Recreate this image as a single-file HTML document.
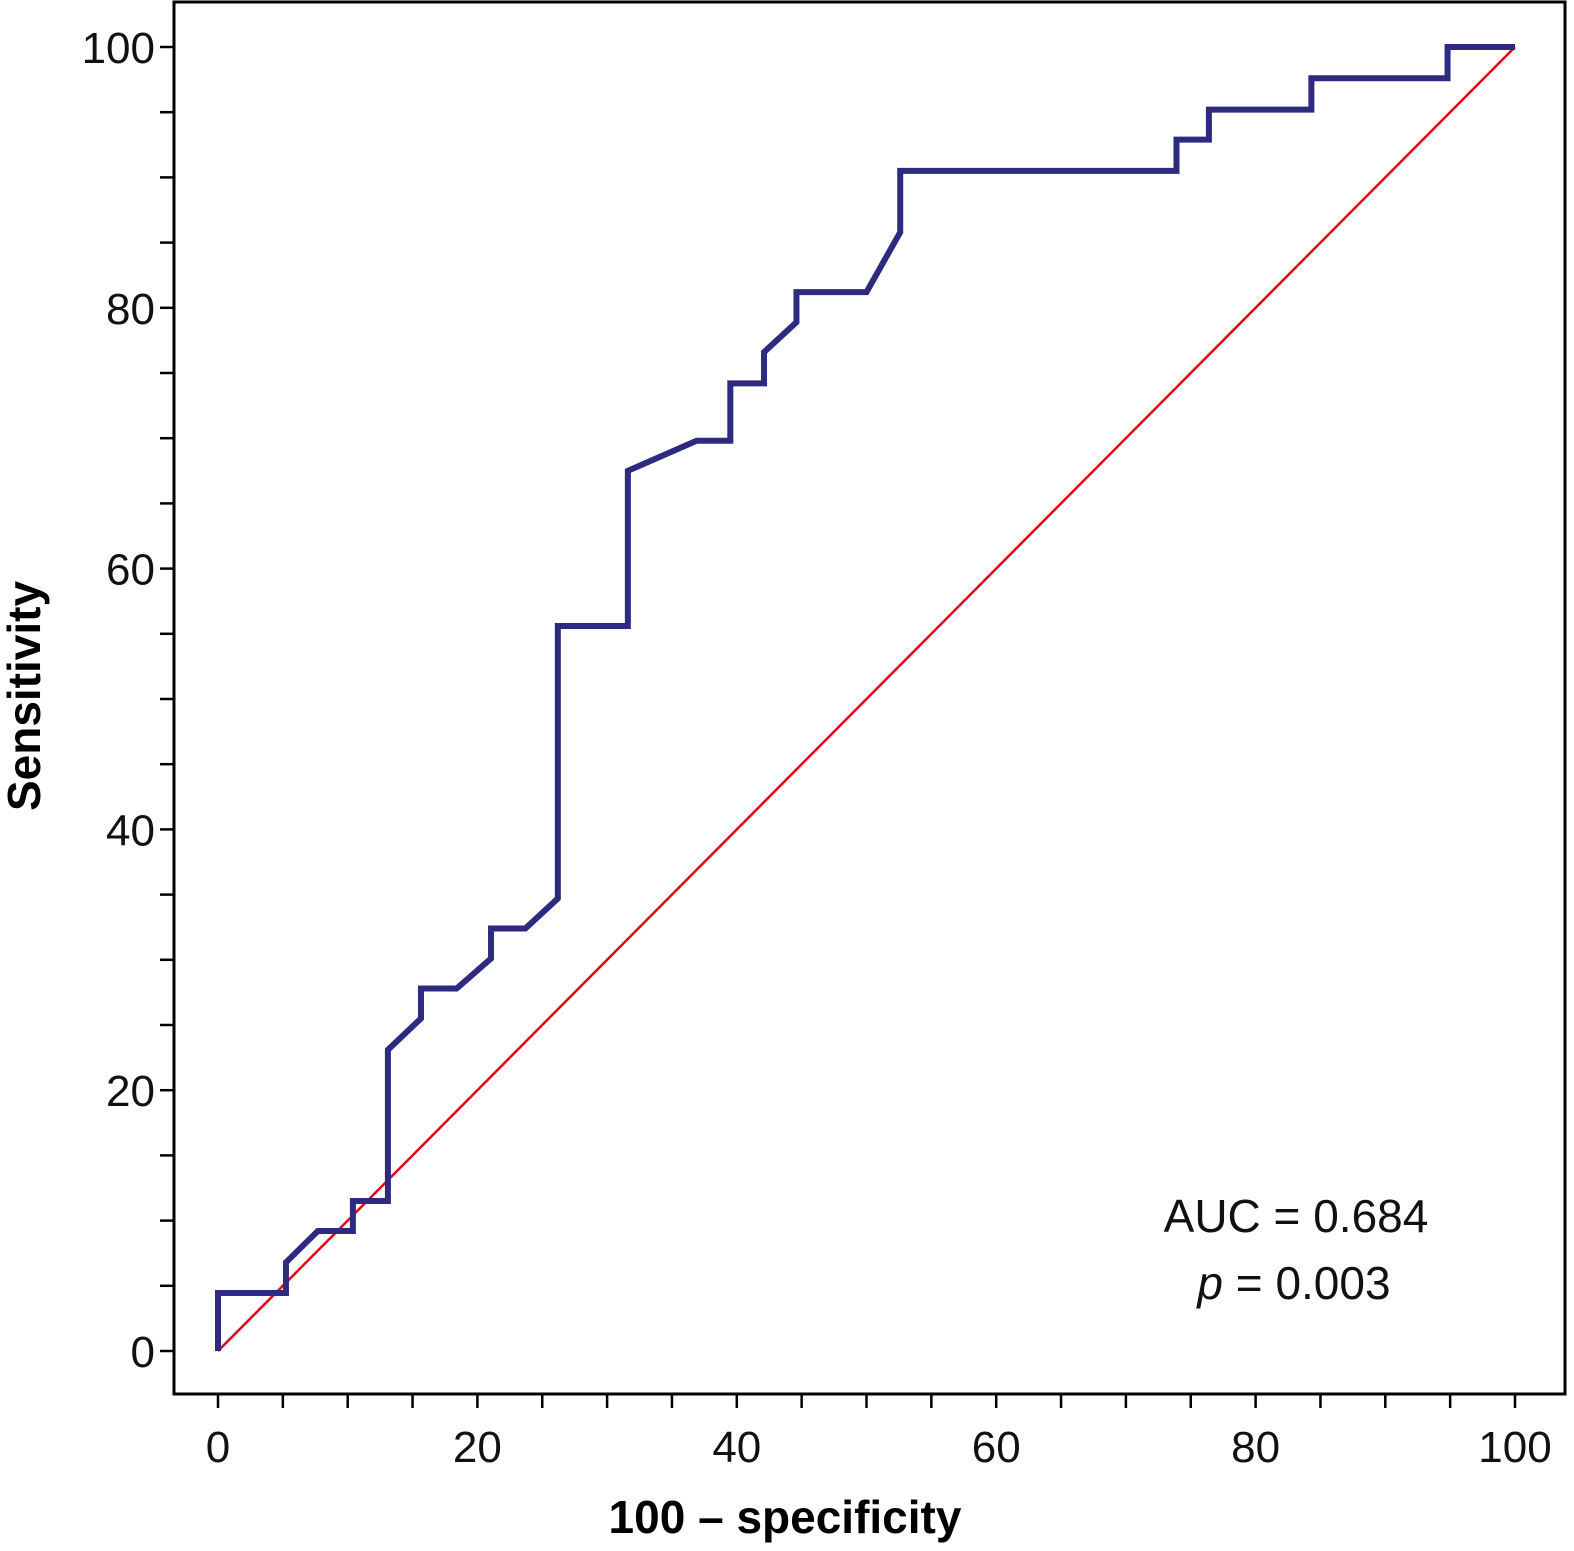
<!DOCTYPE html>
<html><head><meta charset="utf-8"><style>
html,body{margin:0;padding:0;background:#fff;}
svg{display:block;}
text{font-family:"Liberation Sans",sans-serif;}
</style></head><body>
<svg id="chart" width="1574" height="1551" viewBox="0 0 1574 1551" xmlns="http://www.w3.org/2000/svg">
<rect x="174" y="2" width="1391" height="1392" fill="none" stroke="#000" stroke-width="3"/>
<g id="ticks"></g>
<line id="diag" stroke="#e30613" stroke-width="2.5"/>
<path id="roc" fill="none" stroke="#2e2a7f" stroke-width="6" stroke-linejoin="miter"/>
<text x="1296" y="1232" font-size="46" text-anchor="middle" fill="#111" font-weight="300">AUC = 0.684</text>
<text x="1294" y="1299" font-size="46" text-anchor="middle" fill="#111"><tspan font-style="italic">p</tspan> = 0.003</text>
<text x="785" y="1533" font-size="46" font-weight="bold" text-anchor="middle" fill="#000">100 – specificity</text>
<text transform="translate(40,696) rotate(-90)" font-size="46" font-weight="bold" text-anchor="middle" fill="#000">Sensitivity</text>
</svg>
<script>
const fpr = [0,0,5.24,5.24,7.7,10.4,10.4,13.1,13.1,15.65,15.65,18.4,21.05,21.05,23.7,26.2,26.2,31.6,31.6,36.9,39.5,39.5,42.1,42.1,44.6,44.6,50.0,52.6,52.6,73.9,73.9,76.4,76.4,84.3,84.3,94.8,94.8,100];
const tpr = [0,4.45,4.45,6.8,9.2,9.2,11.5,11.5,23.1,25.5,27.8,27.8,30.1,32.4,32.4,34.7,55.6,55.6,67.5,69.8,69.8,74.2,74.2,76.6,78.9,81.2,81.2,85.8,90.5,90.5,92.9,92.9,95.2,95.2,97.6,97.6,100,100];
const xTickLabels = [0,20,40,60,80,100];
const yTickLabels = [0,20,40,60,80,100];
const X0=218, X1=1515, Y0=1351, Y1=47;
function sx(v){return X0+(X1-X0)*v/100;}
function sy(v){return Y0-(Y0-Y1)*v/100;}
const NS="http://www.w3.org/2000/svg";
const g=document.getElementById('ticks');
for(let v=0;v<=100;v+=5){
  const l=document.createElementNS(NS,'line');
  l.setAttribute('x1',sx(v));l.setAttribute('x2',sx(v));l.setAttribute('y1',1394);l.setAttribute('y2',1408);
  l.setAttribute('stroke','#000');l.setAttribute('stroke-width','2.5');
  
  
  g.appendChild(l);
  const m=document.createElementNS(NS,'line');
  m.setAttribute('y1',sy(v));m.setAttribute('y2',sy(v));m.setAttribute('x1',160);m.setAttribute('x2',174);
  m.setAttribute('stroke','#000');m.setAttribute('stroke-width','2.5');
  
  
  g.appendChild(m);
}
xTickLabels.forEach(v=>{
  const t=document.createElementNS(NS,'text');
  t.setAttribute('x',sx(v));t.setAttribute('y',1462);t.setAttribute('font-size','44');t.setAttribute('text-anchor','middle');t.setAttribute('fill','#111');
  t.textContent=v;
  
  
  g.appendChild(t);
});
yTickLabels.forEach(v=>{
  const t=document.createElementNS(NS,'text');
  t.setAttribute('x',155);t.setAttribute('y',sy(v)+16);t.setAttribute('font-size','44');t.setAttribute('text-anchor','end');t.setAttribute('fill','#111');
  t.textContent=v;
  
  
  g.appendChild(t);
});
const d=document.getElementById('diag');
d.setAttribute('x1',sx(0));d.setAttribute('y1',sy(0));d.setAttribute('x2',sx(100));d.setAttribute('y2',sy(100));
document.getElementById('roc').setAttribute('d',fpr.map((v,i)=>(i?'L':'M')+sx(v)+','+sy(tpr[i])).join(' '));
</script>
</body></html>
